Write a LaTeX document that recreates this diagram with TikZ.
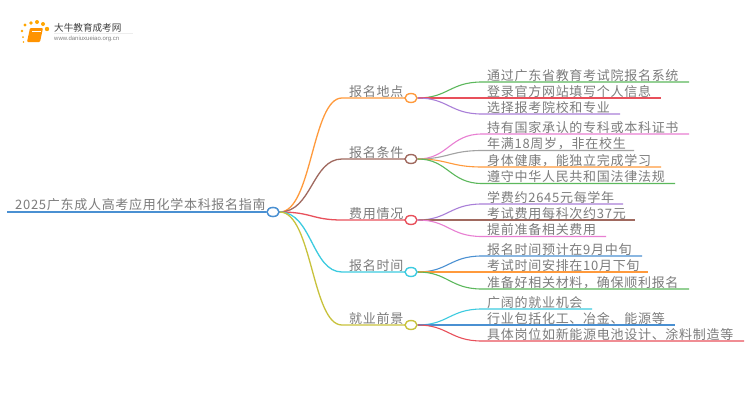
\documentclass[tikz,border=0pt]{standalone}
\usepackage{fontspec}
\usetikzlibrary{shapes.geometric}
\setmainfont{Noto Sans CJK SC}[LetterSpace=5.5]
\newfontfamily\logofont{Noto Sans CJK SC}
\newfontfamily\urlfont{Liberation Sans}
\definecolor{cOrange}{HTML}{FF9A3C}
\definecolor{cBrown}{HTML}{A0695F}
\definecolor{cRed}{HTML}{E8505B}
\definecolor{cCyan}{HTML}{3CCBE0}
\definecolor{cOlive}{HTML}{C8C23C}
\definecolor{cGreen}{HTML}{5CB85C}
\definecolor{cPurple}{HTML}{A97FD8}
\definecolor{cPink}{HTML}{E87FD2}
\definecolor{cGray}{HTML}{A3A3A3}
\definecolor{cBlue}{HTML}{4A90D2}
\definecolor{cText}{HTML}{7C7C7C}
\tikzset{
  hub/.style={ellipse,draw=#1,fill=white,line width=1.4pt,minimum width=12pt,minimum height=9pt,inner sep=0pt},
  lab/.style={anchor=base west,inner sep=0pt,text=cText,font=\fontsize{13}{13}\selectfont},
  conn/.style={draw=#1,line width=1.3pt},
}
% branch: #1 hub name, #2 y, #3 colour, #4 label
\newcommand{\branchx}[4]{%
  \node[lab] (t#1) at (349,#2-2) {#4};
  \coordinate (s#1) at (342,#2);
  \draw[conn=#3] (r.east) .. controls (312,212) and (312,#2) .. (s#1) -- (406,#2);
  \node[hub=#3] (#1) at (411,#2) {};
}
% leaf: #1 hub, #2 id, #3 y, #4 end x, #5 colour, #6 text
\newcommand{\leafx}[6]{%
  \node[lab] (t#2) at (487,#3-2) {#6};
  \coordinate (s#2) at (482,#3);
  \coordinate (e#2) at (#4,#3);
  \draw[conn=#5,line width=1.1pt] (#1.east) .. controls (448,\ypos{#1}) and (450,#3) .. (s#2) -- (e#2);
}
\newcommand{\ypos}[1]{\csname y#1\endcsname}
\def\ya{98}\def\yb{159}\def\yc{220}\def\yd{272}\def\ye{325}
\begin{document}
\begin{tikzpicture}[x=1pt,y=1pt,yscale=-1]
\useasboundingbox (0,0) rectangle (750,410);
\fill[white] (0,0) rectangle (750,410);
% logo
\foreach \px/\py/\pr in {25/25/1.6,31/23/1.9,37/22/2,43/24/2,47/29/2.2,22/31/1.3,23/37/1,23.5/42/.8}
  \fill[orange!70!yellow] (\px,\py) circle (\pr);
\fill[orange!85!yellow,rounded corners=1pt] (30,28) -- (43,28) -- (40,42) -- (27,42) -- cycle;
\draw[white,line width=.5pt] (32,31) -- (41,31);
\draw[black!7,line width=.6pt] (54,33) -- (133,33);
\node[inner sep=0pt,anchor=base west,font=\logofont\fontsize{9.6}{10}\selectfont,text=black!75] (logot) at (54,31) {大牛教育成考网};
\node[inner sep=0pt,anchor=base west,font=\urlfont\fontsize{6}{6}\selectfont,text=black!50] (logou) at (54,40.5) {www.daniuxueiao.org.cn};
% root
\node[lab] (tr) at (15,209) {2025广东成人高考应用化学本科报名指南};
\coordinate (rs) at (7,212);
\node[hub=cBlue] (r) at (273,212) {};
\draw[conn=cBlue] (rs) -- (r.west);
% branches
\branchx{a}{98}{cOrange}{报名地点}
\branchx{b}{159}{cBrown}{报名条件}
\branchx{c}{220}{cRed}{费用情况}
\branchx{d}{272}{cCyan}{报名时间}
\branchx{e}{325}{cOlive}{就业前景}
\node[hub=cBlue] at (r) {};
% leaves
\leafx{a}{a1}{82}{689}{cGreen}{通过广东省教育考试院报名系统}
\leafx{a}{a2}{98}{661}{cRed}{登录官方网站填写个人信息}
\leafx{a}{a3}{114}{620}{cPurple}{选择报考院校和专业}
\leafx{b}{b1}{134}{689}{cPink}{持有国家承认的专科或本科证书}
\leafx{b}{b2}{150.5}{634}{cGray}{年满18周岁，非在校生}
\leafx{b}{b3}{167}{661}{cOrange}{身体健康，能独立完成学习}
\leafx{b}{b4}{183.5}{675}{cGreen}{遵守中华人民共和国法律法规}
\leafx{c}{c1}{204}{623}{cPurple}{学费约2645元每学年}
\leafx{c}{c2}{220}{635}{cBrown}{考试费用每科次约37元}
\leafx{c}{c3}{236.5}{606}{cPink}{提前准备相关费用}
\leafx{d}{d1}{256}{642}{cBlue}{报名时间预计在9月中旬}
\leafx{d}{d2}{272}{648}{cOrange}{考试时间安排在10月下旬}
\leafx{d}{d3}{289}{689}{cGreen}{准备好相关材料，确保顺利报名}
\leafx{e}{e1}{309}{592}{cCyan}{广阔的就业机会}
\leafx{e}{e2}{325}{675}{cBlue}{行业包括化工、冶金、能源等}
\leafx{e}{e3}{341}{744}{cRed}{具体岗位如新能源电池设计、涂料制造等}
\end{tikzpicture}
\end{document}
